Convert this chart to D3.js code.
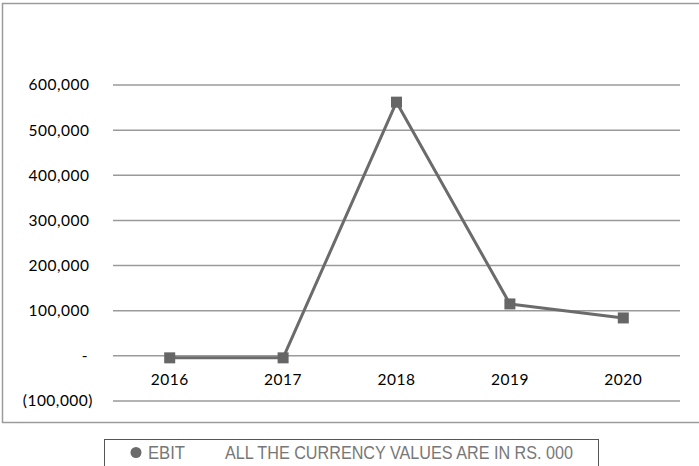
<!DOCTYPE html>
<html><head><meta charset="utf-8">
<script src="https://cdn.jsdelivr.net/npm/d3@7"></script>
<style>body{margin:0;background:#fff}svg{display:block}</style>
</head><body><svg id="c" width="699" height="466"></svg>
<script>
const categories = ["2016","2017","2018","2019","2020"];
const ebit = [-4400, -4400, 562000, 115000, 84000];
const yTicks = [-100000, 0, 100000, 200000, 300000, 400000, 500000, 600000];
const seriesName = "EBIT";
const note = "ALL THE CURRENCY VALUES ARE IN RS. 000";

const svg = d3.select("#c");
svg.append("rect").attr("x",2.5).attr("y",3.5).attr("width",730).attr("height",419)
  .attr("fill","none").attr("stroke","#9a9c9b").attr("stroke-width",1.5);

const x = d3.scaleBand().domain(categories).range([113,680]);
const y = d3.scaleLinear().domain([-100000,600000]).range([401,85]);

const fmt = v => v===0 ? "-" : (v<0 ? "(" + d3.format(",")(-v) + ")" : d3.format(",")(v));
const font = "Lato, Carlito, sans-serif";

svg.append("g").selectAll("line").data(yTicks).join("line")
  .attr("x1",113).attr("x2",680).attr("y1",d=>y(d)).attr("y2",d=>y(d))
  .attr("stroke","#9a9a9a").attr("stroke-width",1.5);

const yAxis = d3.axisLeft(y).tickValues(yTicks).tickFormat(fmt).tickSize(0).tickPadding(0);
const ya = svg.append("g").attr("transform","translate(93,0)").call(yAxis);
ya.select(".domain").remove();
ya.selectAll("text").attr("font-family",font).attr("font-size",15.5).attr("fill","#000")
  .attr("letter-spacing",0.5)
  .attr("dx",d=>d<0?0:(d===0?-5:-3.5));

const xAxis = d3.axisBottom(x).tickSize(0).tickPadding(0);
const xa = svg.append("g").attr("transform","translate(0,374)").call(xAxis);
xa.select(".domain").remove();
xa.selectAll("text").attr("font-family",font).attr("font-size",15.5).attr("fill","#000")
  .attr("letter-spacing",0.5);

const cx = d => x(d) + x.bandwidth()/2;
const line = d3.line().x((d,i)=>cx(categories[i])).y(d=>y(d));
svg.append("path").datum(ebit).attr("d",line).attr("fill","none")
  .attr("stroke","#6b6b6b").attr("stroke-width",3).attr("stroke-linejoin","round");
svg.selectAll("rect.m").data(ebit).join("rect").attr("class","m")
  .attr("x",(d,i)=>cx(categories[i])-5.5).attr("y",d=>y(d)-5.5)
  .attr("width",11).attr("height",11).attr("fill","#666666");

// legend
svg.append("rect").attr("x",104.5).attr("y",439.5).attr("width",494).attr("height",40)
  .attr("fill","none").attr("stroke","#555").attr("stroke-width",1);
svg.append("circle").attr("cx",136).attr("cy",452.5).attr("r",5.5).attr("fill","#6b6b6b");
svg.append("text").attr("x",148).attr("y",459).text(seriesName)
  .attr("font-family","'Liberation Sans Narrow', 'Arial Narrow', sans-serif").attr("font-size",17.5)
  .attr("fill","#777").attr("textLength",37).attr("lengthAdjust","spacingAndGlyphs");
svg.append("text").attr("x",225).attr("y",459).text(note)
  .attr("font-family","'Liberation Sans Narrow', 'Arial Narrow', sans-serif").attr("font-size",17.5)
  .attr("fill","#777").attr("textLength",348).attr("lengthAdjust","spacingAndGlyphs");
</script></body></html>
